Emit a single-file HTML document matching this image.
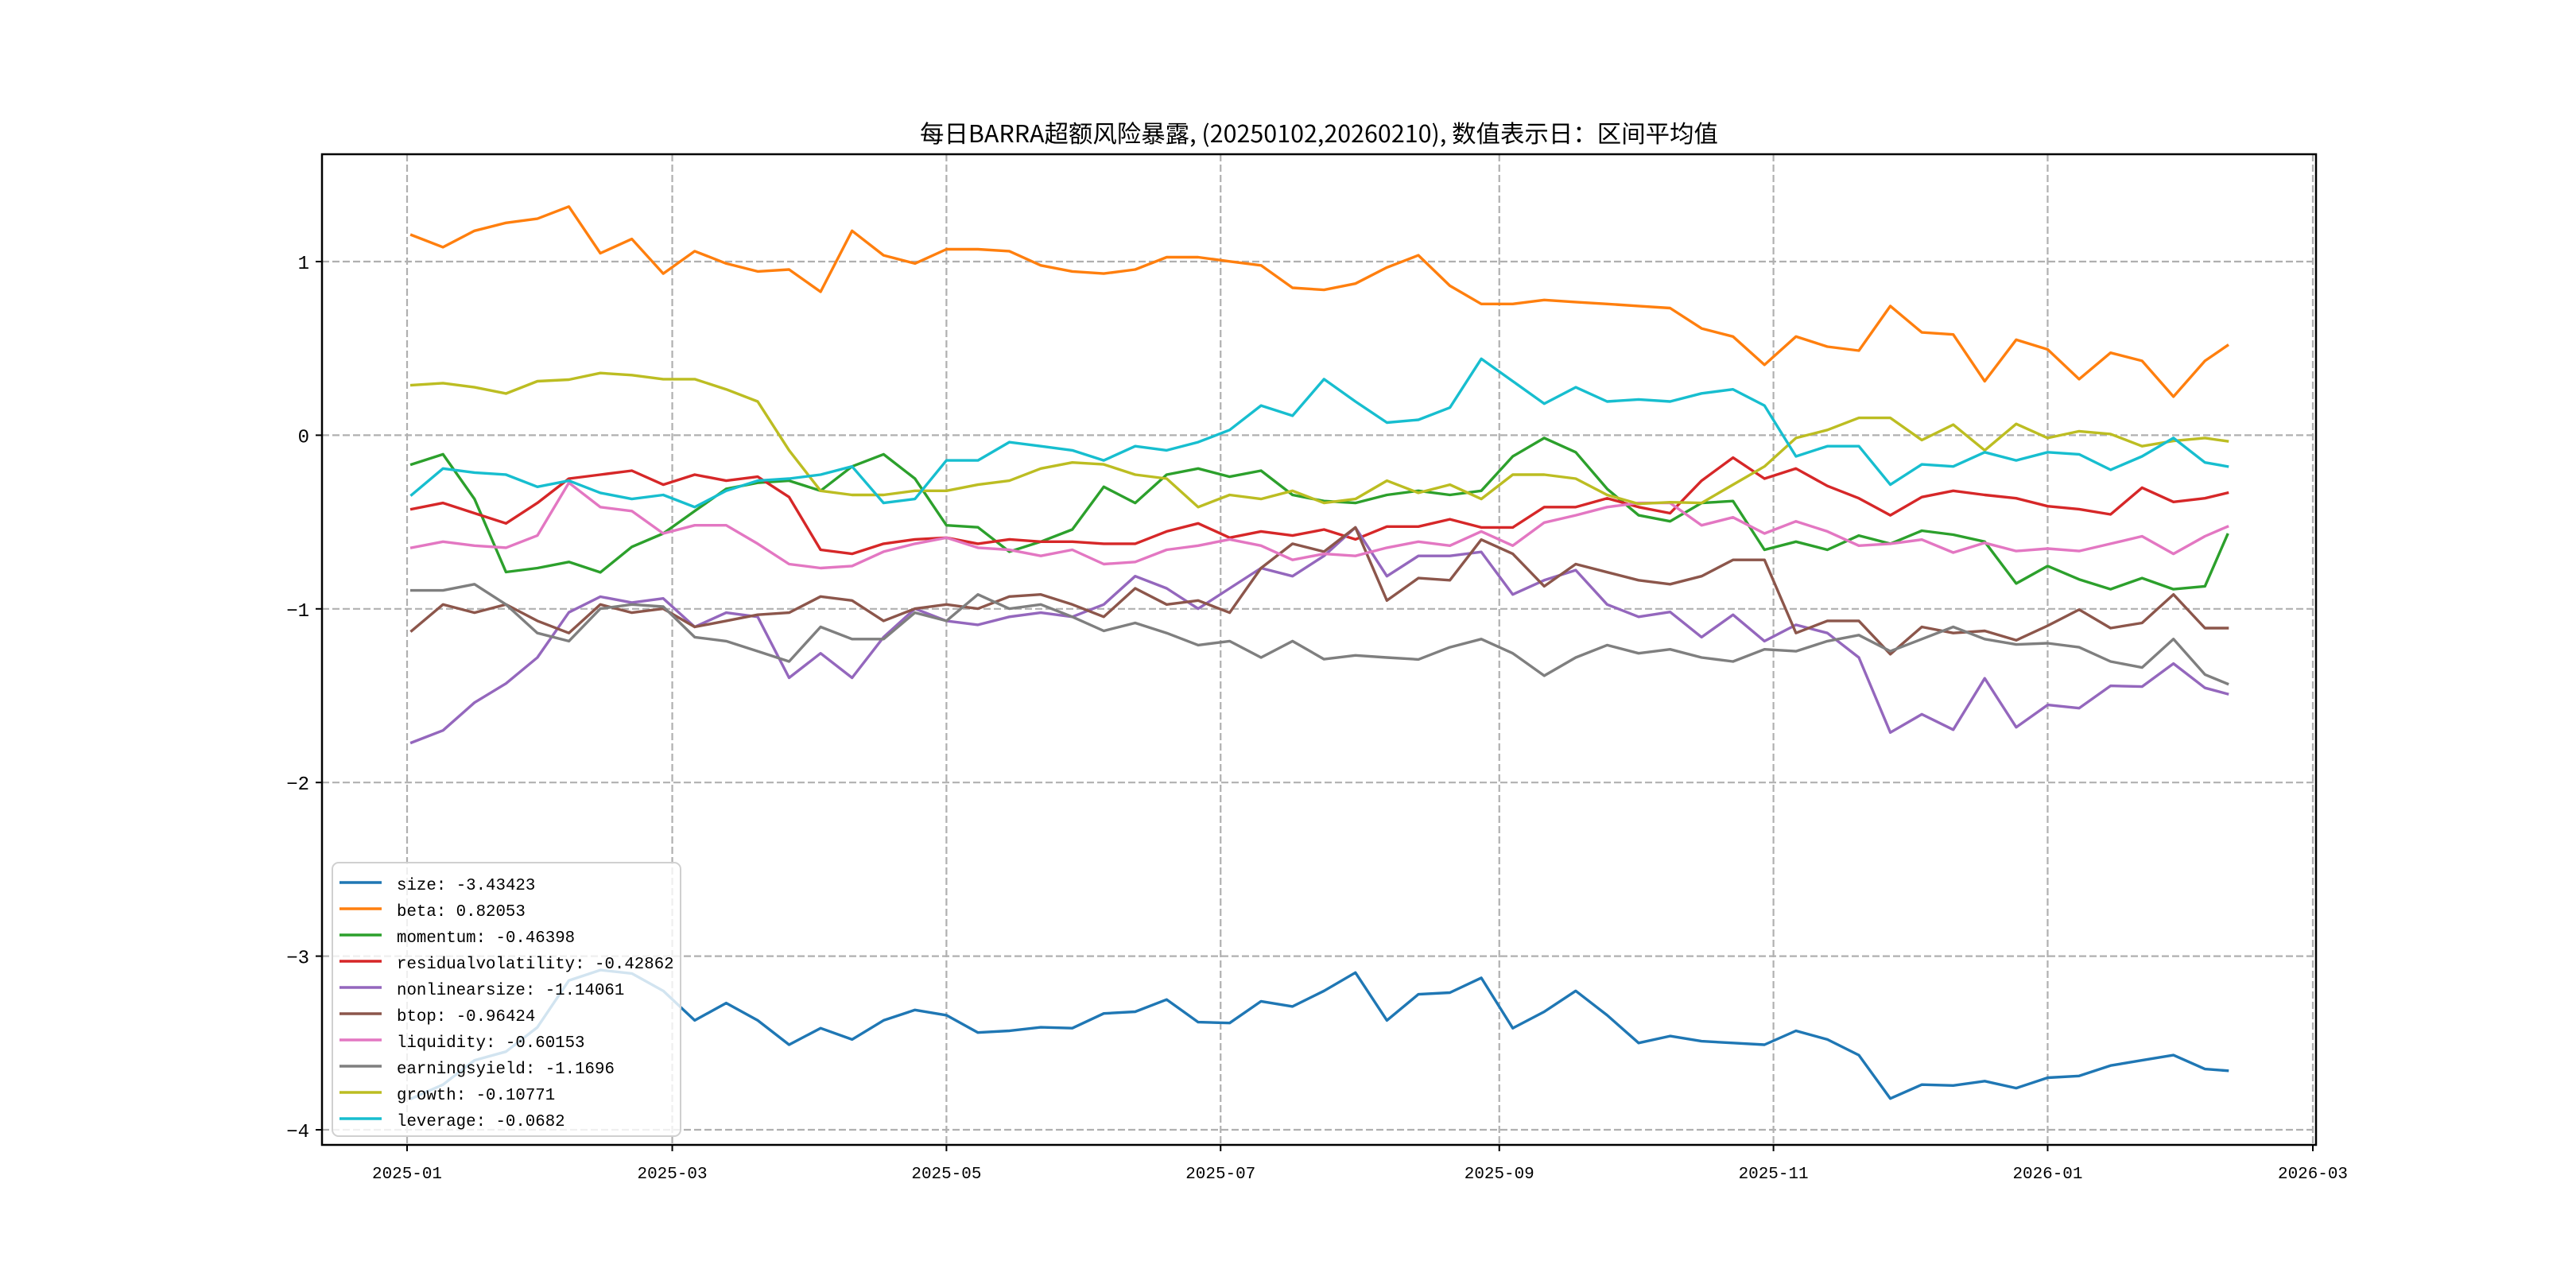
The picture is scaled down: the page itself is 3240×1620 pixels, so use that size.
<!DOCTYPE html>
<html><head><meta charset="utf-8"><title>BARRA exposure</title>
<style>
html,body{margin:0;padding:0;background:#fff;}
svg{display:block;}
text{font-family:"Liberation Mono","WenQuanYi Zen Hei","Noto Sans CJK SC",monospace;fill:#000;}
text.cjk{font-family:"WenQuanYi Zen Hei","Noto Sans CJK SC",sans-serif;}
</style></head>
<body>
<svg id="chart" width="3240" height="1620" viewBox="0 0 3240 1620" xmlns="http://www.w3.org/2000/svg">
<rect x="0" y="0" width="3240" height="1620" fill="#fff"/>
<text class="cjk" x="1659" y="179" font-size="30" text-anchor="middle" textLength="1004" lengthAdjust="spacingAndGlyphs">每日BARRA超额风险暴露, (20250102,20260210),  数值表示日：区间平均值</text>
<g id="grid"></g>
<g id="series"></g>
<rect x="405" y="194" width="2508" height="1246" fill="none" stroke="#000" stroke-width="2.5"/>
<g id="ticks"></g>
<g id="legend"></g>
</svg>
<script>
// Day offsets from 2025-01-01
const dayOffsets = [1,8,15,22,29,36,43,50,57,64,71,78,85,92,99,106,113,120,127,134,141,148,155,162,169,176,183,190,197,204,211,218,225,232,239,246,253,260,267,274,281,288,295,302,309,316,323,330,337,344,351,358,365,372,379,386,393,400,405];
const xTickDays = [0,59,120,181,243,304,365,424];
const xTickLabels = ["2025-01","2025-03","2025-05","2025-07","2025-09","2025-11","2026-01","2026-03"];
const yTickValues = [1,0,-1,-2,-3,-4];
const yTickLabels = ["1","0","\u22121","\u22122","\u22123","\u22124"];
const seriesNames = ["size","beta","momentum","residualvolatility","nonlinearsize","btop","liquidity","earningsyield","growth","leverage"];
const seriesColors = ["#1f77b4","#ff7f0e","#2ca02c","#d62728","#9467bd","#8c564b","#e377c2","#7f7f7f","#bcbd22","#17becf"];
const legendValues = ["-3.43423","0.82053","-0.46398","-0.42862","-1.14061","-0.96424","-0.60153","-1.1696","-0.10771","-0.0682"];

const sizeVals = [-3.82,-3.74,-3.6,-3.55,-3.41,-3.14,-3.08,-3.1,-3.2,
-3.37,-3.27,-3.37,-3.51,-3.415,-3.48,-3.37,-3.31,-3.34,-3.44,-3.43,-3.41,-3.415,-3.33,-3.32,-3.25,-3.38,-3.385,-3.26,-3.29,-3.2,-3.095,
-3.37,-3.22,-3.21,-3.125,
-3.415,-3.32,-3.2,-3.34,-3.50,-3.46,-3.49,-3.5,-3.51,-3.43,-3.48,-3.57,-3.82,-3.74,-3.745,-3.72,-3.76,-3.70,-3.69,-3.63,-3.60,-3.57,-3.65,-3.66];
const betaVals = [1.153,1.083,1.177,1.223,1.247,1.317,1.048,1.130,0.931,1.060,0.989,0.943,0.954,0.826,
1.177,1.036,0.989,1.071,1.071,1.06,0.978,0.943,0.931,0.954,1.025,1.025,1.001,0.978,0.849,0.837,0.873,
0.966,1.036,0.861,0.756,0.756,0.779,0.767,0.756,0.744,0.732,0.615,0.568,0.405,0.568,0.51,0.487,
0.744,0.592,0.58,0.311,0.55,0.494,0.323,0.475,0.428,0.222,0.428,0.517];
const momentumVals = [-0.168,-0.11,-0.367,-0.788,-0.765,-0.73,-0.79,-0.643,-0.566,-0.437,-0.309,-0.274,-0.262,-0.32,
-0.18,-0.11,-0.25,-0.519,-0.53,-0.671,-0.613,-0.543,-0.297,-0.39,-0.227,-0.192,-0.239,-0.204,-0.344,-0.379,-0.39,
-0.344,-0.32,-0.344,-0.32,-0.122,-0.016,-0.098,-0.309,-0.461,-0.496,-0.39,-0.379,-0.66,-0.613,-0.66,-0.578,
-0.625,-0.55,-0.573,-0.613,-0.854,-0.753,-0.83,-0.887,-0.823,-0.887,-0.87,-0.573];
const resvolVals = [-0.426,-0.39,-0.449,-0.508,-0.39,-0.25,-0.227,-0.204,-0.285,-0.227,-0.262,-0.239,-0.356,-0.66,
-0.683,-0.625,-0.60,-0.59,-0.625,-0.60,-0.613,-0.613,-0.625,-0.625,-0.554,-0.508,-0.59,-0.554,-0.578,-0.543,-0.60,
-0.526,-0.526,-0.484,-0.531,-0.531,-0.414,-0.414,-0.363,-0.414,-0.449,-0.262,-0.129,-0.25,-0.192,-0.292,-0.363,
-0.461,-0.356,-0.32,-0.344,-0.363,-0.409,-0.426,-0.456,-0.302,-0.384,-0.363,-0.332];
const nlsizeVals = [-1.77,-1.70,-1.54,-1.43,-1.28,-1.02,-0.93,-0.964,-0.94,-1.104,-1.022,-1.046,-1.397,-1.256,
-1.397,-1.163,-0.999,-1.069,-1.092,-1.046,-1.022,-1.046,-0.975,-0.812,-0.882,-0.999,-0.882,-0.765,-0.812,-0.695,-0.531,
-0.812,-0.695,-0.695,-0.672,-0.917,-0.835,-0.777,-0.975,-1.046,-1.018,-1.163,-1.034,-1.186,-1.092,-1.139,-1.28,
-1.712,-1.607,-1.696,-1.40,-1.682,-1.553,-1.572,-1.443,-1.448,-1.315,-1.455,-1.49];
const btopVals = [-1.127,-0.975,-1.022,-0.975,-1.069,-1.139,-0.975,-1.022,-0.999,-1.104,-1.069,-1.034,-1.022,-0.929,
-0.952,-1.069,-0.999,-0.975,-0.999,-0.929,-0.917,-0.975,-1.046,-0.882,-0.975,-0.952,-1.022,-0.765,-0.625,-0.671,-0.531,
-0.952,-0.823,-0.835,-0.601,-0.683,-0.87,-0.742,-0.789,-0.835,-0.858,-0.812,-0.718,-0.718,-1.139,-1.069,-1.069,
-1.261,-1.104,-1.139,-1.127,-1.181,-1.097,-1.004,-1.111,-1.081,-0.917,-1.111,-1.111];
const liquidityVals = [-0.648,-0.613,-0.636,-0.648,-0.578,-0.274,-0.414,-0.437,-0.566,-0.519,-0.519,-0.625,-0.742,-0.765,
-0.753,-0.671,-0.625,-0.59,-0.648,-0.66,-0.695,-0.66,-0.742,-0.73,-0.66,-0.636,-0.60,-0.636,-0.718,-0.683,-0.695,
-0.648,-0.613,-0.636,-0.554,-0.636,-0.503,-0.461,-0.414,-0.39,-0.39,-0.519,-0.473,-0.566,-0.496,-0.554,-0.636,
-0.625,-0.601,-0.676,-0.62,-0.667,-0.653,-0.667,-0.625,-0.582,-0.683,-0.582,-0.526];
const eyieldVals = [-0.894,-0.894,-0.858,-0.975,-1.139,-1.186,-0.999,-0.975,-0.987,-1.163,-1.186,-1.244,-1.303,-1.104,
-1.174,-1.174,-1.022,-1.069,-0.917,-0.999,-0.975,-1.046,-1.127,-1.081,-1.139,-1.209,-1.186,-1.28,-1.186,-1.29,-1.268,
-1.28,-1.291,-1.221,-1.174,-1.256,-1.385,-1.28,-1.209,-1.256,-1.233,-1.28,-1.303,-1.233,-1.244,-1.186,-1.151,
-1.244,-1.174,-1.104,-1.174,-1.205,-1.198,-1.221,-1.303,-1.338,-1.174,-1.378,-1.432];
const growthVals = [0.288,0.30,0.276,0.24,0.311,0.32,0.358,0.346,0.323,0.323,0.264,0.194,-0.087,-0.32,
-0.344,-0.344,-0.32,-0.32,-0.285,-0.262,-0.192,-0.157,-0.168,-0.227,-0.25,-0.414,-0.344,-0.367,-0.32,-0.39,-0.367,
-0.262,-0.332,-0.285,-0.367,-0.227,-0.227,-0.25,-0.344,-0.395,-0.386,-0.39,-0.285,-0.18,-0.016,0.03,0.1,
0.1,-0.028,0.061,-0.087,0.065,-0.016,0.023,0.007,-0.063,-0.033,-0.016,-0.035];
const leverageVals = [-0.344,-0.192,-0.215,-0.227,-0.297,-0.262,-0.332,-0.367,-0.344,-0.414,-0.32,-0.262,-0.25,-0.227,
-0.18,-0.39,-0.367,-0.145,-0.145,-0.04,-0.063,-0.087,-0.145,-0.063,-0.087,-0.04,0.03,0.171,0.112,0.323,0.194,
0.073,0.089,0.159,0.44,0.311,0.182,0.276,0.194,0.206,0.194,0.241,0.264,0.171,-0.122,-0.063,-0.063,
-0.285,-0.168,-0.18,-0.098,-0.145,-0.098,-0.11,-0.199,-0.122,-0.016,-0.157,-0.18];

const allSeries = [sizeVals,betaVals,momentumVals,resvolVals,nlsizeVals,btopVals,liquidityVals,eyieldVals,growthVals,leverageVals];

const NS = "http://www.w3.org/2000/svg";
const PL = 405, PR = 2913, PT = 194, PB = 1440;
const X0 = 512, X1 = 2909, D1 = 424;
const Y0 = 547.4, YU = 218.4;
function xScale(d){ return X0 + d * (X1 - X0) / D1; }
function yScale(v){ return Y0 - v * YU; }
function mk(tag, attrs){ const e = document.createElementNS(NS, tag); for (const k in attrs) e.setAttribute(k, attrs[k]); return e; }

const grid = document.getElementById('grid');
const ticks = document.getElementById('ticks');
xTickDays.forEach((d, i) => {
  const x = xScale(d);
  const g = mk('line', {x1:x, x2:x, y1:PT, y2:PB, stroke:'#b0b0b0', 'stroke-width':2.2, 'stroke-dasharray':'9,4'});
  
  
  grid.appendChild(g);
  const t = mk('line', {x1:x, x2:x, y1:PB, y2:PB+8, stroke:'#000', 'stroke-width':2});
  
  
  ticks.appendChild(t);
  const lb = mk('text', {x:x, y:PB+42, 'font-size':21, 'text-anchor':'middle', textLength:88, lengthAdjust:'spacingAndGlyphs'});
  lb.textContent = xTickLabels[i];
  
  
  ticks.appendChild(lb);
});
yTickValues.forEach((v, i) => {
  const y = yScale(v);
  const g = mk('line', {x1:PL, x2:PR, y1:y, y2:y, stroke:'#b0b0b0', 'stroke-width':2.2, 'stroke-dasharray':'9,4'});
  
  
  grid.appendChild(g);
  const t = mk('line', {x1:PL-8, x2:PL, y1:y, y2:y, stroke:'#000', 'stroke-width':2});
  
  
  ticks.appendChild(t);
  const lb = mk('text', {x:PL-16, y:y+9, 'font-size':24, 'text-anchor':'end'});
  lb.textContent = yTickLabels[i];
  
  
  ticks.appendChild(lb);
});

const seriesG = document.getElementById('series');
allSeries.forEach((vals, si) => {
  const pts = vals.map((v, i) => xScale(dayOffsets[i]).toFixed(1) + ',' + yScale(v).toFixed(1)).join(' ');
  const pl = mk('polyline', {points:pts, fill:'none', stroke:seriesColors[si], 'stroke-width':3.4, 'stroke-linejoin':'round', 'stroke-linecap':'square'});
  
  
  seriesG.appendChild(pl);
});

const legend = document.getElementById('legend');
const lbox = mk('rect', {x:418, y:1085, width:438, height:344, rx:8, fill:'#fff', 'fill-opacity':0.8, stroke:'#d0d0d0', 'stroke-width':2});


legend.appendChild(lbox);
seriesNames.forEach((nm, i) => {
  const y = 1110 + i * 33;
  const h = mk('line', {x1:427, x2:480, y1:y, y2:y, stroke:seriesColors[i], 'stroke-width':3.4});
  
  
  legend.appendChild(h);
  const label = nm + ': ' + legendValues[i];
  const t = mk('text', {x:499, y:y+9, 'font-size':21, textLength:(label.length*12.45).toFixed(1), lengthAdjust:'spacingAndGlyphs'});
  t.textContent = label;
  
  
  legend.appendChild(t);
});
</script>
</body></html>
